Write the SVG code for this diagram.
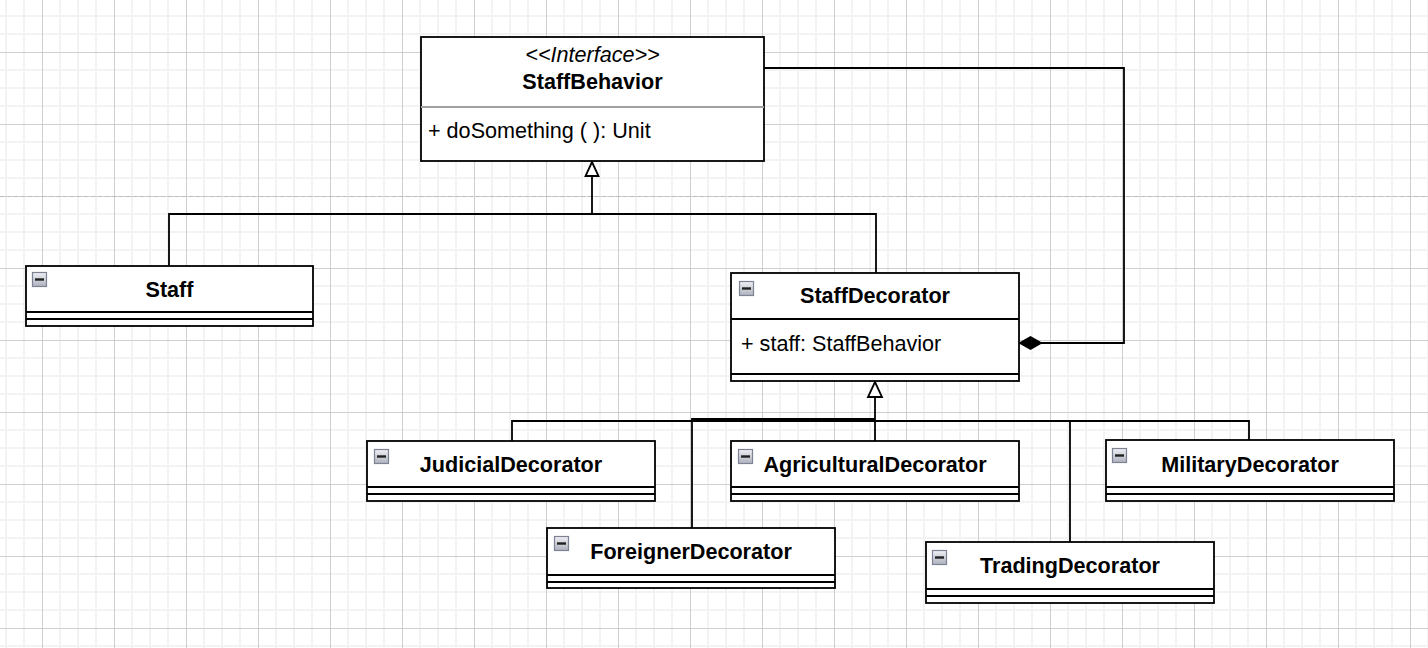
<svg xmlns="http://www.w3.org/2000/svg" width="1428" height="648" viewBox="0 0 1428 648">
<defs>
<pattern id="grid" patternUnits="userSpaceOnUse" x="42" y="52" width="72" height="72">
<path d="M18,0V72M36,0V72M54,0V72M0,18H72M0,36H72M0,54H72" stroke="#f3f3f3" stroke-width="2" fill="none"/>
<path d="M0.5,0V72M0,0.5H72" stroke="#cfcfcf" stroke-width="1" fill="none"/>
</pattern>
<linearGradient id="icg" x1="0" y1="0" x2="0" y2="1">
<stop offset="0" stop-color="#f0f0f4"/>
<stop offset="1" stop-color="#aeb2be"/>
</linearGradient>
<symbol id="ic" viewBox="0 0 15 15" width="15" height="15" overflow="visible">
<rect x="0.5" y="0.5" width="14" height="14" fill="url(#icg)" stroke="#7d8394" stroke-width="1.2"/>
<rect x="3" y="6.3" width="9" height="2.4" fill="#222"/>
</symbol>
</defs>
<style>
.box{fill:#fff;stroke:#000;stroke-width:1.8}
.sep{stroke:#000;stroke-width:1.8;fill:none}
.sepg{stroke:#a0a0a0;stroke-width:1.8;fill:none}
.t{font-family:"Liberation Sans",Arial,Helvetica,sans-serif;font-size:21.6px;fill:#000}
.b{font-weight:bold;text-anchor:middle}
.i{font-style:italic;text-anchor:middle}
.e{fill:none;stroke:#000;stroke-width:1.8}
.tri{fill:#fff;stroke:#000;stroke-width:1.8}
.dia{fill:#000;stroke:#000;stroke-width:1.8}
</style>
<rect x="0" y="0" width="1428" height="648" fill="#fff"/>
<rect x="0" y="0" width="1428" height="648" fill="url(#grid)"/>
<line x1="0" y1="196.5" x2="1428" y2="196.5" stroke="#bdbdbd" stroke-width="1" stroke-dasharray="4,3"/>

<g id="connectors">
<path class="e" d="M169,266V214H876V273M592,214V176"/>
<polygon class="tri" points="592,162 585.5,176 598.5,176"/>
<path class="e" d="M764,68H1124V343H1041"/>
<polygon class="dia" points="1020,343 1030.5,337 1041,343 1030.5,349"/>
<path class="e" d="M875,441V397M512,441V421H875M692,528V419H875M1070,542V421H875M1249,440V421H875"/>
<polygon class="tri" points="875,382 868,397 882,397"/>
</g>

<g id="StaffBehavior">
<rect class="box" x="421" y="37" width="343" height="124"/>
<line class="sepg" x1="421" y1="107" x2="764" y2="107"/>
<text class="t i" x="592.5" y="62">&lt;&lt;Interface&gt;&gt;</text>
<text class="t b" x="592.5" y="89">StaffBehavior</text>
<text class="t" x="428" y="138">+ doSomething ( ): Unit</text>
</g>

<g id="Staff">
<rect class="box" x="26" y="266" width="287" height="60"/>
<path class="sep" d="M26,312H313M26,319H313"/>
<use href="#ic" x="32" y="272"/>
<text class="t b" x="169.5" y="297">Staff</text>
</g>

<g id="StaffDecorator">
<rect class="box" x="731" y="273" width="288" height="108"/>
<path class="sep" d="M731,319H1019M731,374H1019"/>
<use href="#ic" x="739" y="281"/>
<text class="t b" x="875" y="303">StaffDecorator</text>
<text class="t" x="741" y="351">+ staff: StaffBehavior</text>
</g>

<g id="JudicialDecorator">
<rect class="box" x="367" y="441" width="288" height="60"/>
<path class="sep" d="M367,487H655M367,494H655"/>
<use href="#ic" x="374" y="449"/>
<text class="t b" x="511" y="472">JudicialDecorator</text>
</g>

<g id="AgriculturalDecorator">
<rect class="box" x="731" y="441" width="288" height="60"/>
<path class="sep" d="M731,487H1019M731,494H1019"/>
<use href="#ic" x="738" y="449"/>
<text class="t b" x="875" y="472">AgriculturalDecorator</text>
</g>

<g id="MilitaryDecorator">
<rect class="box" x="1106" y="440" width="288" height="61"/>
<path class="sep" d="M1106,487H1394M1106,494H1394"/>
<use href="#ic" x="1112" y="448"/>
<text class="t b" x="1250" y="472">MilitaryDecorator</text>
</g>

<g id="ForeignerDecorator">
<rect class="box" x="547" y="528" width="288" height="60"/>
<path class="sep" d="M547,575H835M547,582H835"/>
<use href="#ic" x="554" y="536"/>
<text class="t b" x="691" y="559">ForeignerDecorator</text>
</g>

<g id="TradingDecorator">
<rect class="box" x="926" y="542" width="288" height="61"/>
<path class="sep" d="M926,589H1214M926,596H1214"/>
<use href="#ic" x="932" y="550"/>
<text class="t b" x="1070" y="573">TradingDecorator</text>
</g>
</svg>
